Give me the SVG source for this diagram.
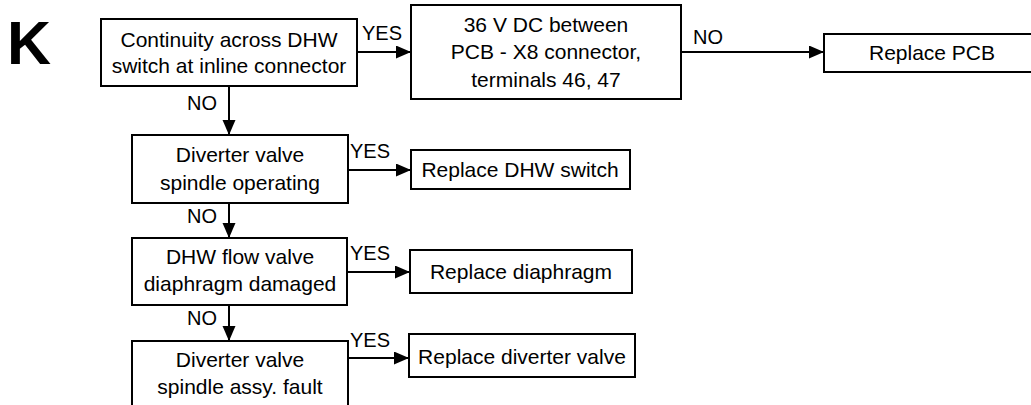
<svg xmlns="http://www.w3.org/2000/svg" width="1031" height="405" viewBox="0 0 1031 405">
<style>
.box{fill:#fff;stroke:#000;stroke-width:2}
.t{font-family:"Liberation Sans",Arial,sans-serif;font-size:21px;fill:#000;text-anchor:middle}
.l{font-family:"Liberation Sans",Arial,sans-serif;font-size:20px;fill:#000}
.c{stroke:#000;stroke-width:2;fill:none;marker-end:url(#ah)}
</style>
<defs>
<marker id="ah" markerUnits="userSpaceOnUse" markerWidth="16" markerHeight="14" refX="15" refY="6.5" orient="auto">
<path d="M0,0 L15,6.5 L0,13 z" fill="#000"/>
</marker>
</defs>
<rect width="1031" height="405" fill="#fff"/>
<text x="7" y="64" font-family="Liberation Sans,Arial,sans-serif" font-size="61" font-weight="bold">K</text>
<g id="connectors">
<path class="c" d="M357,52 L411,52"/>
<path class="c" d="M681,52 L824,52"/>
<path class="c" d="M229,86 L229,135"/>
<path class="c" d="M348,170 L411,170"/>
<path class="c" d="M229,203 L229,238"/>
<path class="c" d="M347,272 L410,272"/>
<path class="c" d="M229,305 L229,341"/>
<path class="c" d="M348,358 L409,358"/>
<text class="l" x="362" y="40">YES</text>
<text class="l" x="693" y="44">NO</text>
<text class="l" x="187" y="110">NO</text>
<text class="l" x="350" y="158">YES</text>
<text class="l" x="187" y="223">NO</text>
<text class="l" x="350" y="260">YES</text>
<text class="l" x="187" y="325">NO</text>
<text class="l" x="350" y="347">YES</text>
</g>
<g id="n1">
<rect class="box" x="101" y="19" width="256" height="67"/>
<text class="t" x="229" y="47">Continuity across DHW</text>
<text class="t" x="229" y="73">switch at inline connector</text>
</g>
<g id="n2">
<rect class="box" x="411" y="5" width="270" height="94"/>
<text class="t" x="546" y="32">36 V DC between</text>
<text class="t" x="546" y="59">PCB - X8 connector,</text>
<text class="t" x="546" y="87">terminals 46, 47</text>
</g>
<g id="n3">
<rect class="box" x="824" y="34" width="216" height="38"/>
<text class="t" x="932" y="60">Replace PCB</text>
</g>
<g id="n4">
<rect class="box" x="132" y="135" width="216" height="68"/>
<text class="t" x="240" y="162">Diverter valve</text>
<text class="t" x="240" y="190">spindle operating</text>
</g>
<g id="n5">
<rect class="box" x="411" y="150" width="219" height="39"/>
<text class="t" x="520" y="177">Replace DHW switch</text>
</g>
<g id="n6">
<rect class="box" x="132" y="238" width="215" height="67"/>
<text class="t" x="240" y="264">DHW flow valve</text>
<text class="t" x="240" y="291">diaphragm damaged</text>
</g>
<g id="n7">
<rect class="box" x="410" y="250" width="222" height="43"/>
<text class="t" x="521" y="279">Replace diaphragm</text>
</g>
<g id="n8">
<rect class="box" x="132" y="341" width="216" height="70"/>
<text class="t" x="240" y="367">Diverter valve</text>
<text class="t" x="240" y="394">spindle assy. fault</text>
</g>
<g id="n9">
<rect class="box" x="409" y="334" width="226" height="43"/>
<text class="t" x="522" y="364">Replace diverter valve</text>
</g>
</svg>
